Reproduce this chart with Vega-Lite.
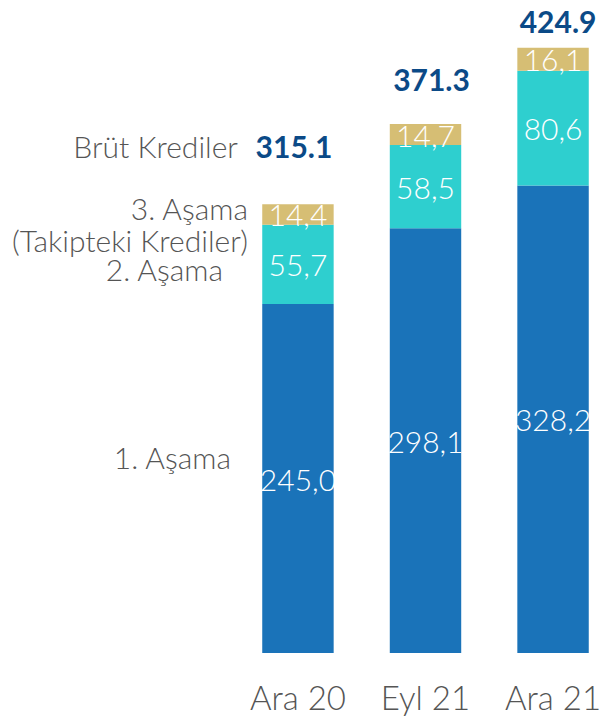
{
  "$schema": "https://vega.github.io/schema/vega-lite/v6.json",
  "width": 363,
  "height": 641,
  "autosize": "none",
  "padding": {"left": 244, "top": 12, "right": 0, "bottom": 65},
  "background": "white",
  "config": {
    "view": {"stroke": null},
    "locale": {"number": {"decimal": ",", "thousands": ".", "grouping": [3], "currency": ["", ""]}},
    "text": {"font": "Lato"}
  },
  "datasets": {
    "stages": [
      {"period": "Ara 20", "stage": "1. Aşama", "value": 245.0},
      {"period": "Ara 20", "stage": "2. Aşama", "value": 55.7},
      {"period": "Ara 20", "stage": "3. Aşama\n(Takipteki Krediler)", "value": 14.4},
      {"period": "Eyl 21", "stage": "1. Aşama", "value": 298.1},
      {"period": "Eyl 21", "stage": "2. Aşama", "value": 58.5},
      {"period": "Eyl 21", "stage": "3. Aşama\n(Takipteki Krediler)", "value": 14.7},
      {"period": "Ara 21", "stage": "1. Aşama", "value": 328.2},
      {"period": "Ara 21", "stage": "2. Aşama", "value": 80.6},
      {"period": "Ara 21", "stage": "3. Aşama\n(Takipteki Krediler)", "value": 16.1}
    ],
    "totals": [
      {"period": "Ara 20", "total": 315.1},
      {"period": "Eyl 21", "total": 371.3},
      {"period": "Ara 21", "total": 424.9}
    ]
  },
  "encoding": {
    "x": {
      "field": "period",
      "type": "nominal",
      "sort": ["Ara 20", "Eyl 21", "Ara 21"],
      "scale": {"paddingInner": 0.44, "paddingOuter": 0.143},
      "axis": {
        "title": null,
        "domain": false,
        "ticks": false,
        "labelAngle": 0,
        "labelFont": "Lato",
        "labelFontSize": 33,
        "labelFontWeight": 300,
        "labelColor": "#555555",
        "labelPadding": 30
      }
    }
  },
  "layer": [
    {
      "data": {"name": "stages"},
      "mark": {"type": "bar"},
      "encoding": {
        "y": {"field": "value", "type": "quantitative", "stack": "zero", "scale": {"domain": [0, 450], "nice": false}, "axis": null},
        "color": {
          "field": "stage",
          "type": "nominal",
          "scale": {"domain": ["1. Aşama", "2. Aşama", "3. Aşama\n(Takipteki Krediler)"], "range": ["#1a73b9", "#2ecfcf", "#d6be74"]},
          "legend": null
        },
        "order": {"field": "stage", "sort": "ascending"}
      }
    },
    {
      "data": {"name": "stages"},
      "mark": {"type": "text", "fontSize": 30, "fontWeight": 300, "color": "white", "baseline": "middle", "dy": 3},
      "encoding": {
        "y": {"field": "value", "type": "quantitative", "stack": "zero", "bandPosition": 0.5},
        "detail": {"field": "stage"},
        "order": {"field": "stage", "sort": "ascending"},
        "text": {"field": "value", "type": "quantitative", "format": ".1f"}
      }
    },
    {
      "data": {"name": "stages"},
      "transform": [{"filter": "datum.period == 'Ara 20'"}],
      "layer": [
        {
          "mark": {"type": "text", "fontSize": 30, "fontWeight": 300, "color": "#555555", "align": "right", "baseline": "middle", "dx": -67, "dy": -19},
          "encoding": {"text": {"condition": {"test": "datum.stage == '1. Aşama'", "field": "stage", "type": "nominal"}, "value": ""}}
        },
        {
          "mark": {"type": "text", "fontSize": 30, "fontWeight": 300, "color": "#555555", "align": "right", "baseline": "middle", "dx": -75, "dy": 8},
          "encoding": {"text": {"condition": {"test": "datum.stage == '2. Aşama'", "field": "stage", "type": "nominal"}, "value": ""}}
        },
        {
          "mark": {"type": "text", "fontSize": 30, "fontWeight": 300, "color": "#555555", "align": "right", "baseline": "middle", "dx": -50, "dy": -3, "lineBreak": "\n", "lineHeight": 32},
          "encoding": {"text": {"condition": {"test": "indexof(datum.stage, '3. Aşama') == 0", "field": "stage", "type": "nominal"}, "value": ""}}
        }
      ],
      "encoding": {
        "y": {"field": "value", "type": "quantitative", "stack": "zero", "bandPosition": 0.5},
        "detail": {"field": "stage"},
        "order": {"field": "stage", "sort": "ascending"}
      }
    },
    {
      "data": {"name": "totals"},
      "transform": [{"filter": "datum.period == 'Ara 20'"}],
      "mark": {"type": "text", "fontSize": 30, "fontWeight": "bold", "color": "#0b4a87", "baseline": "middle", "dy": -55, "dx": -4},
      "encoding": {
        "y": {"field": "total", "type": "quantitative"},
        "text": {"field": "total", "type": "nominal"}
      }
    },
    {
      "data": {"name": "totals"},
      "transform": [{"filter": "datum.period == 'Ara 20'"}],
      "mark": {"type": "text", "fontSize": 30, "fontWeight": 300, "color": "#555555", "align": "right", "baseline": "middle", "dy": -55, "dx": -60},
      "encoding": {
        "y": {"field": "total", "type": "quantitative"},
        "text": {"value": "Brüt Krediler"}
      }
    },
    {
      "data": {"name": "totals"},
      "transform": [{"filter": "datum.period == 'Eyl 21'"}],
      "mark": {"type": "text", "fontSize": 30, "fontWeight": "bold", "color": "#0b4a87", "baseline": "middle", "dy": -42, "dx": 6},
      "encoding": {
        "y": {"field": "total", "type": "quantitative"},
        "text": {"field": "total", "type": "nominal"}
      }
    },
    {
      "data": {"name": "totals"},
      "transform": [{"filter": "datum.period == 'Ara 21'"}],
      "mark": {"type": "text", "fontSize": 30, "fontWeight": "bold", "color": "#0b4a87", "baseline": "middle", "dy": -24, "dx": 5},
      "encoding": {
        "y": {"field": "total", "type": "quantitative"},
        "text": {"field": "total", "type": "nominal"}
      }
    }
  ]
}
